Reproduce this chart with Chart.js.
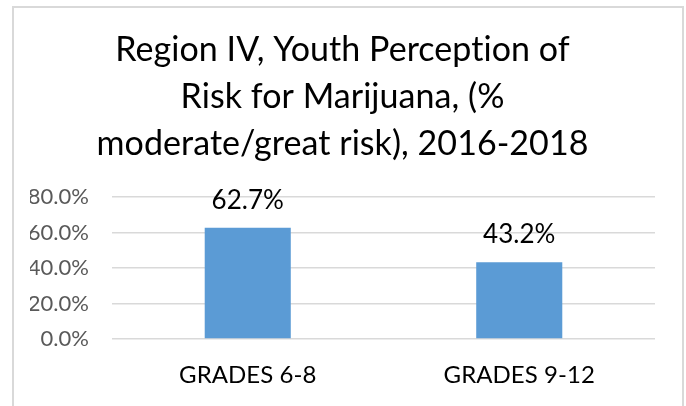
<!DOCTYPE html>
<html lang="en">
<head>
  <meta charset="UTF-8">
  <title>Region IV, Youth Perception of Risk for Marijuana</title>
  <script src="https://cdn.jsdelivr.net/npm/chart.js"></script>
  <style>
    body {
      margin: 0;
      background: #fff;
    }
    #wrap {
      position: relative;
      width: 686px;
      height: 406px;
      overflow: hidden;
    }
    /* light grey frame round the chart, bottom edge runs off the picture */
    #frame {
      position: absolute;
      left: 12px;
      top: 6px;
      width: 672px;
      height: 500px;
      box-sizing: border-box;
      border: 2px solid #d9d9d9;
      pointer-events: none;
    }
    canvas {
      position: absolute;
      left: 0;
      top: 0;
    }
  </style>
</head>
<body>
  <div id="wrap">
    <canvas id="riskChart" width="686" height="406"></canvas>
    <div id="frame"></div>
  </div>

  <script>
    // Data
    const categories = ['GRADES 6-8', 'GRADES 9-12'];
    const riskPct = [62.7, 43.2];
    const titleLines = [
      'Region IV, Youth Perception of',
      'Risk for Marijuana, (%',
      'moderate/great risk), 2016-2018'
    ];
    const yMin = 0;
    const yMax = 80;
    const yStep = 20;

    const FONT = 'Lato, "Open Sans", sans-serif';

    // tiny letter spacing so Lato does not join "ti" into a ligature
    const noLigatures = {
      id: 'noLigatures',
      beforeDraw(chart) {
        chart.ctx.letterSpacing = '0.05px';
      }
    };

    // Value labels above each bar, placed from the bar elements
    const barLabels = {
      id: 'barLabels',
      afterDatasetsDraw(chart) {
        const ctx = chart.ctx;
        const meta = chart.getDatasetMeta(0);
        ctx.save();
        ctx.font = '26px ' + FONT;
        ctx.fillStyle = '#000';
        ctx.textAlign = 'center';
        ctx.textBaseline = 'alphabetic';
        meta.data.forEach((bar, i) => {
          const v = chart.data.datasets[0].data[i];
          ctx.fillText(v.toFixed(1) + '%', bar.x, bar.y - 19);
        });
        ctx.restore();
      }
    };

    const ctx = document.getElementById('riskChart').getContext('2d');
    new Chart(ctx, {
      type: 'bar',
      data: {
        labels: categories,
        datasets: [{
          data: riskPct,
          backgroundColor: '#5b9bd5',
          borderWidth: 0,
          categoryPercentage: 1,
          barPercentage: 0.317
        }]
      },
      options: {
        responsive: false,
        animation: false,
        layout: {
          padding: { left: 30, right: 31, top: 0, bottom: 0 }
        },
        plugins: {
          legend: { display: false },
          tooltip: { enabled: false },
          title: {
            display: true,
            text: titleLines,
            color: '#000',
            font: { family: FONT, size: 34, weight: 'normal', lineHeight: 47 / 34 },
            padding: { top: 27, bottom: 29 }
          }
        },
        scales: {
          x: {
            afterFit(scale) { scale.height = 67; },
            grid: { display: false },
            border: { display: false },
            ticks: {
              color: '#000',
              padding: 14,
              font: { family: FONT, size: 24 }
            }
          },
          y: {
            min: yMin,
            max: yMax,
            afterFit(scale) { scale.width = 82; },
            grid: { color: '#d9d9d9', lineWidth: 1.5, drawTicks: false },
            border: { display: false },
            ticks: {
              stepSize: yStep,
              autoSkip: false,
              color: '#595959',
              padding: 23,
              font: { family: FONT, size: 22 },
              callback: v => v.toFixed(1) + '%'
            }
          }
        }
      },
      plugins: [noLigatures, barLabels]
    });
  </script>
</body>
</html>
